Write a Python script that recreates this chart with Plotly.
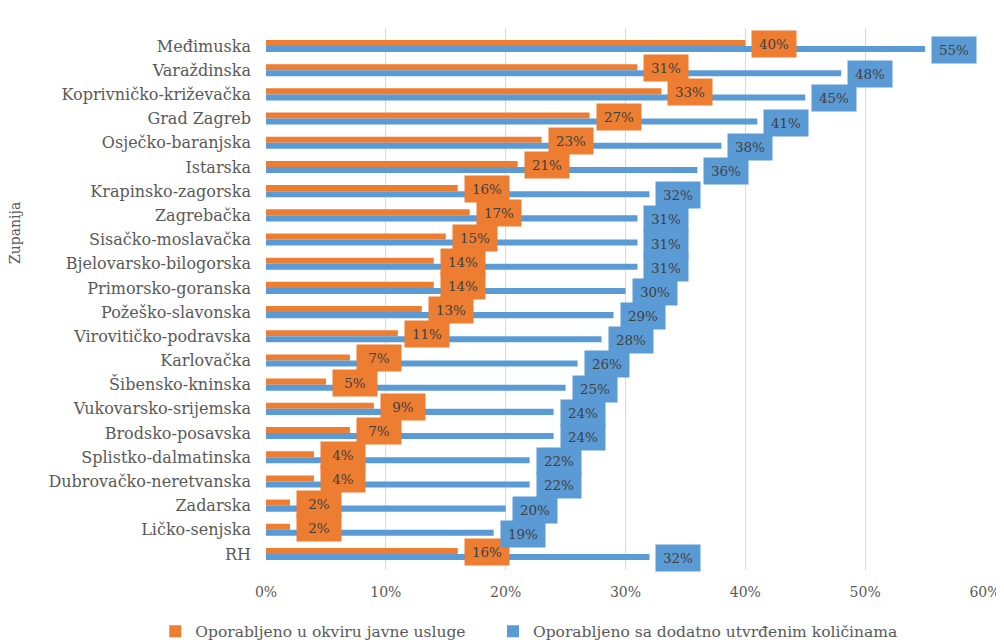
import plotly.graph_objects as go

categories = ["Međimuska", "Varaždinska", "Koprivničko-križevačka", "Grad Zagreb",
              "Osječko-baranjska", "Istarska", "Krapinsko-zagorska", "Zagrebačka",
              "Sisačko-moslavačka", "Bjelovarsko-bilogorska", "Primorsko-goranska",
              "Požeško-slavonska", "Virovitičko-podravska", "Karlovačka",
              "Šibensko-kninska", "Vukovarsko-srijemska", "Brodsko-posavska",
              "Splistko-dalmatinska", "Dubrovačko-neretvanska", "Zadarska",
              "Ličko-senjska", "RH"]
javne_usluge = [40, 31, 33, 27, 23, 21, 16, 17, 15, 14, 14, 13, 11, 7, 5, 9, 7, 4, 4, 2, 2, 16]
dodatno = [55, 48, 45, 41, 38, 36, 32, 31, 31, 31, 30, 29, 28, 26, 25, 24, 24, 22, 22, 20, 19, 32]
series_names = ["Oporabljeno u okviru javne usluge", "Oporabljeno sa dodatno utvrđenim količinama"]
x_ticks = [0, 10, 20, 30, 40, 50, 60]
x_tick_labels = [f"{t}%" for t in x_ticks]

ORANGE = "#ED7D31"
BLUE = "#5B9BD5"
SERIF = "DejaVu Serif"
TEXT = "#595959"

fig = go.Figure()
fig.add_trace(go.Bar(y=categories, x=javne_usluge, orientation="h", name=series_names[0],
                     marker=dict(color=ORANGE, line=dict(width=0)), legend="legend"))
fig.add_trace(go.Bar(y=categories, x=dodatno, orientation="h", name=series_names[1],
                     marker=dict(color=BLUE, line=dict(width=0)), legend="legend2"))

annotations = []
for cat, v in zip(categories, javne_usluge):
    annotations.append(dict(x=v, y=cat, xref="x", yref="y", text=f"{v}%", showarrow=False,
                            xanchor="left", yanchor="middle", xshift=6, yshift=2,
                            width=44, height=26, bgcolor=ORANGE, borderpad=0,
                            font=dict(family=SERIF, size=13.5, color="#404040")))
for cat, v in zip(categories, dodatno):
    annotations.append(dict(x=v, y=cat, xref="x", yref="y", text=f"{v}%", showarrow=False,
                            xanchor="left", yanchor="middle", xshift=6, yshift=-4,
                            width=44, height=26, bgcolor=BLUE, borderpad=0,
                            font=dict(family=SERIF, size=13.5, color="#404040")))
annotations.append(dict(text="Županija", textangle=-90, x=-0.349, y=0.622, xref="paper", yref="paper",
                        xanchor="center", yanchor="middle", showarrow=False,
                        font=dict(family=SERIF, size=14, color=TEXT)))

legend_style = dict(orientation="h", xanchor="left", y=-0.114, yanchor="middle",
                    font=dict(family=SERIF, size=15.5, color=TEXT), itemwidth=30,
                    bgcolor="rgba(0,0,0,0)")

fig.update_layout(
    width=1004, height=644,
    margin=dict(l=258, r=27, t=20, b=82, autoexpand=False),
    paper_bgcolor="white", plot_bgcolor="white",
    barmode="group", bargap=0.5, bargroupgap=0,
    font=dict(family=SERIF, color=TEXT, size=14),
    xaxis=dict(range=[0, 60], tickvals=x_ticks, ticktext=x_tick_labels, showgrid=True,
               gridcolor="#D9D9D9", gridwidth=1, zeroline=False, showline=False,
               ticklabelstandoff=12, automargin=False,
               tickfont=dict(family=SERIF, size=14, color=TEXT), fixedrange=True),
    yaxis=dict(autorange="reversed", showgrid=False, showline=False, zeroline=False,
               ticks="", ticklabelstandoff=14, automargin=False,
               tickfont=dict(family=SERIF, size=16, color=TEXT)),
    legend=dict(x=-0.154, **legend_style),
    legend2=dict(x=0.3157, **legend_style),
    annotations=annotations,
    showlegend=True,
)

fig.write_html("out.html")
